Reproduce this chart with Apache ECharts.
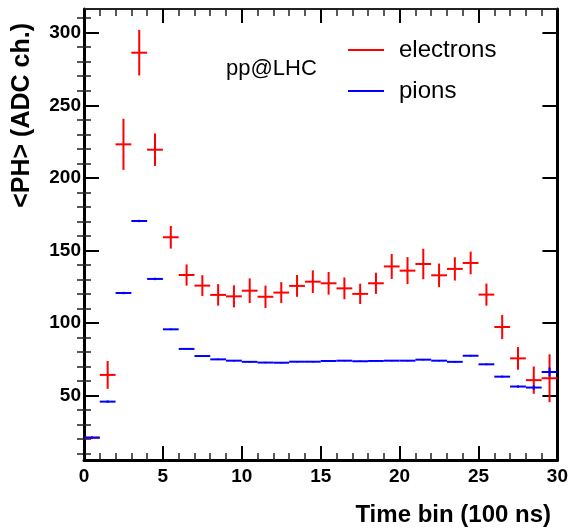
<!DOCTYPE html>
<html>
<head>
<meta charset="utf-8">
<script src="https://cdn.jsdelivr.net/npm/echarts@6/dist/echarts.min.js"></script>
<style>
  html, body { margin: 0; padding: 0; background: #fff; }
  #chart { width: 571px; height: 528px; }
</style>
</head>
<body>
<div id="chart"></div>
<script>
// time bin centres (100 ns units), half bin width for the horizontal bars
const timeBins = [0.5, 1.5, 2.5, 3.5, 4.5, 5.5, 6.5, 7.5, 8.5, 9.5,
                  10.5, 11.5, 12.5, 13.5, 14.5, 15.5, 16.5, 17.5, 18.5, 19.5,
                  20.5, 21.5, 22.5, 23.5, 24.5, 25.5, 26.5, 27.5, 28.5, 29.5];
const binHalfWidth = 0.5;

// <PH> for electrons and its error
const electronPH = [21.1, 64.3, 223.1, 286.2, 219.4, 159.1, 133.1, 125.8, 119.4, 118.4,
                    122.3, 118.1, 121.0, 125.6, 128.5, 127.4, 123.9, 120.1, 127.4, 139.0,
                    136.1, 140.7, 132.9, 137.3, 141.4, 119.6, 97.3, 75.7, 60.7, 62.0];
const electronErr = [1.0, 9.6, 17.6, 15.7, 11.2, 7.8, 7.3, 7.2, 7.4, 7.6,
                     8.5, 7.7, 7.2, 7.5, 7.8, 7.8, 7.5, 7.0, 7.3, 8.6,
                     9.3, 10.5, 8.1, 8.0, 7.8, 7.6, 8.3, 7.8, 9.4, 16.5];

// <PH> for pions and its error
const pionPH = [21.1, 45.9, 120.7, 170.3, 130.4, 95.7, 82.2, 77.3, 75.0, 74.1,
                73.3, 72.8, 72.7, 73.4, 73.4, 73.9, 74.1, 73.7, 73.9, 74.1,
                74.1, 74.8, 74.1, 73.3, 77.5, 71.6, 63.1, 56.3, 55.6, 66.3];
const pionErr = [0.5, 0.8, 0.8, 0.8, 0.8, 0.6, 0.5, 0.5, 0.5, 0.5,
                 0.5, 0.5, 0.5, 0.5, 0.5, 0.5, 0.5, 0.5, 0.5, 0.5,
                 0.5, 0.5, 0.5, 0.5, 0.6, 0.6, 0.7, 0.8, 1.5, 3.1];

// axis ticks
const yMajorTicks = [50, 100, 150, 200, 250, 300];
const yMinorTicks = [10, 20, 30, 40, 60, 70, 80, 90, 110, 120, 130, 140, 160, 170, 180, 190,
                     210, 220, 230, 240, 260, 270, 280, 290, 310];
const yMin = 5.7, yMax = 316.3;

const FONT = '"Liberation Sans", Arial, Helvetica, sans-serif';

const chart = echarts.init(document.getElementById('chart'));

function toCrosses(ys, errs) {
    return timeBins.map((x, i) => [x, ys[i], binHalfWidth, errs[i]]);
}

function crossRenderer(color) {
    return function (params, api) {
        const x = api.value(0), y = api.value(1), ex = api.value(2), ey = api.value(3);
        const l = api.coord([x - ex, y]), r = api.coord([x + ex, y]);
        const t = api.coord([x, y + ey]), b = api.coord([x, y - ey]);
        const st = { stroke: color, lineWidth: 2 };
        return {
            type: 'group',
            children: [
                { type: 'line', shape: { x1: l[0], y1: l[1], x2: r[0], y2: r[1] }, style: st },
                { type: 'line', shape: { x1: t[0], y1: t[1], x2: b[0], y2: b[1] }, style: st }
            ]
        };
    };
}

const xCommon = {
    type: 'value', min: 0, max: 30, interval: 5,
    splitLine: { show: false }, minorSplitLine: { show: false }
};
const yCommon = {
    type: 'value', min: yMin, max: yMax,
    splitLine: { show: false }, minorSplitLine: { show: false }
};

const option = {
    animation: false,
    backgroundColor: '#fff',
    grid: { left: 84, right: 13, top: 9, bottom: 68, containLabel: false },
    legend: {
        orient: 'vertical',
        left: 348, top: 37,
        padding: 0,
        itemGap: 15,
        itemWidth: 36, itemHeight: 2,
        icon: 'path://M0,0H36V2H0Z',
        textStyle: { fontFamily: FONT, fontSize: 24, color: '#000', lineHeight: 24, padding: [2, 0, 0, 10] },
        data: ['electrons', 'pions']
    },
    xAxis: [
        Object.assign({}, xCommon, {
            position: 'bottom',
            axisLine: { show: true, onZero: false, lineStyle: { color: '#000', width: 3 } },
            axisTick: { show: true, inside: true, length: 14, lineStyle: { color: '#000', width: 2 } },
            minorTick: { show: true, splitNumber: 5, length: 7, lineStyle: { color: '#222', width: 1.5 } },
            axisLabel: { fontFamily: FONT, fontSize: 19, fontWeight: 'bold', color: '#000', margin: 7 }
        }),
        Object.assign({}, xCommon, {
            position: 'top',
            axisLine: { show: true, onZero: false, lineStyle: { color: '#222', width: 2 } },
            axisTick: { show: true, inside: true, length: 14, lineStyle: { color: '#000', width: 2 } },
            minorTick: { show: true, splitNumber: 5, length: 7, lineStyle: { color: '#222', width: 1.5 } },
            axisLabel: { show: false }
        })
    ],
    yAxis: [
        Object.assign({}, yCommon, {
            position: 'left',
            axisLine: { show: true, onZero: false, lineStyle: { color: '#000', width: 3 } },
            axisTick: { show: true, inside: true, length: 15, customValues: yMajorTicks, lineStyle: { color: '#000', width: 2 } },
            axisLabel: { customValues: yMajorTicks, fontFamily: FONT, fontSize: 19, fontWeight: 'bold', color: '#000', margin: 3 }
        }),
        Object.assign({}, yCommon, {
            position: 'left',
            axisLine: { show: false },
            axisTick: { show: true, inside: true, length: 7, customValues: yMinorTicks, lineStyle: { color: '#222', width: 1.5 } },
            axisLabel: { show: false }
        }),
        Object.assign({}, yCommon, {
            position: 'right',
            axisLine: { show: true, onZero: false, lineStyle: { color: '#000', width: 3 } },
            axisTick: { show: true, inside: true, length: 15, customValues: yMajorTicks, lineStyle: { color: '#000', width: 2 } },
            axisLabel: { show: false }
        }),
        Object.assign({}, yCommon, {
            position: 'right',
            axisLine: { show: false },
            axisTick: { show: true, inside: true, length: 7, customValues: yMinorTicks, lineStyle: { color: '#222', width: 1.5 } },
            axisLabel: { show: false }
        })
    ],
    graphic: [
        {
            type: 'text', x: 226, y: 69,
            style: { text: 'pp@LHC', fontFamily: FONT, fontSize: 22, fill: '#000', textAlign: 'left', textVerticalAlign: 'middle' }
        },
        {
            type: 'text', x: 551, y: 515,
            style: { text: 'Time bin (100 ns)', fontFamily: FONT, fontSize: 24, fontWeight: 'bold', fill: '#000', textAlign: 'right', textVerticalAlign: 'middle' }
        },
        {
            type: 'text', x: 22, y: 23, rotation: Math.PI / 2,
            style: { text: '<PH> (ADC ch.)', fontFamily: FONT, fontSize: 25, fontWeight: 'bold', fill: '#000', textAlign: 'right', textVerticalAlign: 'middle' }
        }
    ],
    series: [
        {
            name: 'electrons',
            type: 'custom',
            xAxisIndex: 0, yAxisIndex: 0,
            itemStyle: { color: '#ff0000' },
            renderItem: crossRenderer('#ff0000'),
            encode: { x: 0, y: 1 },
            data: toCrosses(electronPH, electronErr)
        },
        {
            name: 'pions',
            type: 'custom',
            xAxisIndex: 0, yAxisIndex: 0,
            itemStyle: { color: '#0000ff' },
            renderItem: crossRenderer('#0000ff'),
            encode: { x: 0, y: 1 },
            data: toCrosses(pionPH, pionErr)
        }
    ]
};

chart.setOption(option);
</script>
</body>
</html>
